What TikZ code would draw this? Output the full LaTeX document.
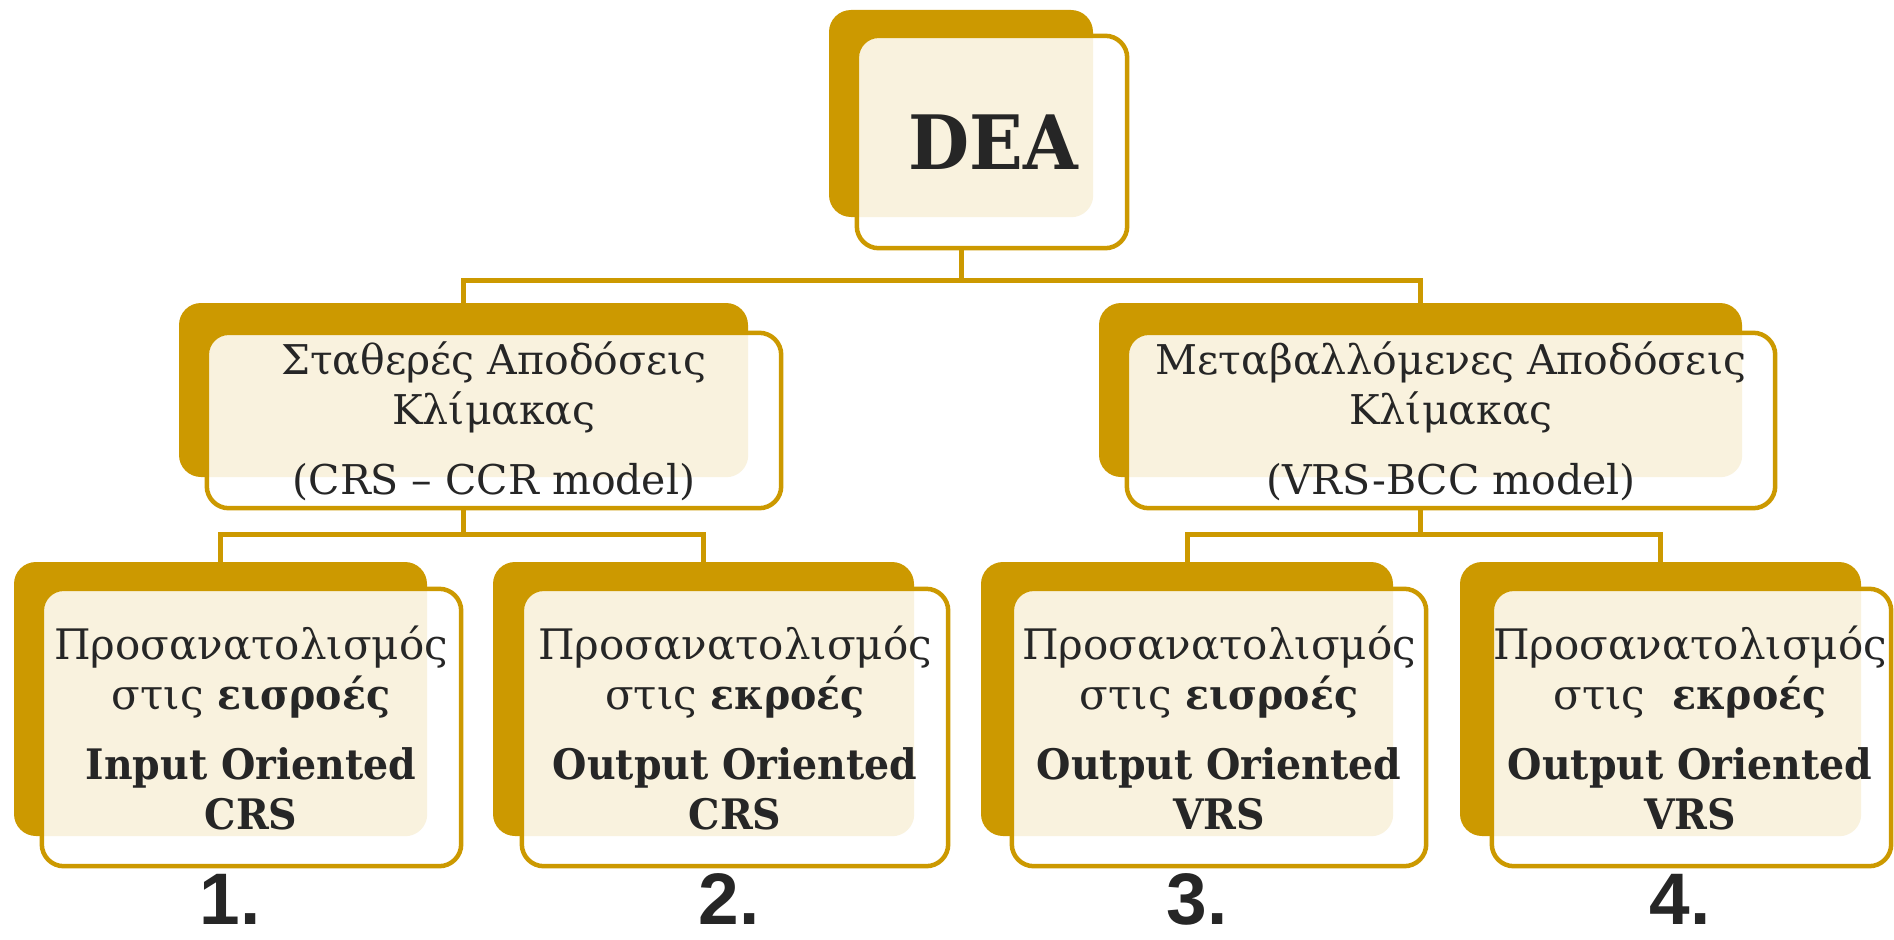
\documentclass[tikz,border=0pt]{standalone}
\usepackage{fontspec}
\setmainfont{DejaVu Serif}[BoldFeatures={FakeStretch=0.94}]
\newfontfamily\numfont{Liberation Sans}
\usetikzlibrary{fit}
\definecolor{gold}{HTML}{CC9900}
\definecolor{cream}{HTML}{F9F2DE}
\definecolor{ink}{HTML}{262626}
\tikzset{
  backbox/.style={fill=gold, draw=none, rounded corners=22pt, inner sep=0pt},
  frontbox/.style={fill=white, draw=none, rounded corners=22pt, inner sep=0pt},
  frontborder/.style={draw=gold, line width=4.5pt, rounded corners=22pt},
  conn/.style={draw=gold, line width=5pt},
  midtext/.style={text=ink, align=center, font=\fontsize{41}{50}\selectfont, inner sep=0pt},
  boxtext/.style={text=ink, align=center, font=\fontsize{42}{50}\selectfont, inner sep=0pt},
  deatext/.style={text=ink, font=\bfseries\fontsize{75}{80}\selectfont, inner sep=0pt},
  numlabel/.style={text=ink, font=\numfont\bfseries\fontsize{73}{76}\selectfont, anchor=base, inner sep=0pt},
}
\newcommand\tierbox[9]{%
  \node[backbox, fit={(#2,#3) (#4,#5)}] (#1b) {};
  \node[frontbox, fit={(#6,#7) (#8,#9)}] (#1f) {};
  \begin{scope}
    \clip[rounded corners=22pt] (#1f.north west) rectangle (#1f.south east);
    \fill[cream, rounded corners=22pt] (#1b.north west) rectangle (#1b.south east);
  \end{scope}
  \draw[frontborder] (#1f.north west) rectangle (#1f.south east);
}
\begin{document}
\begin{tikzpicture}[x=1pt, y=-1pt]
\useasboundingbox (0,0) rectangle (1894,939);
% boxes
\tierbox{dea}{829}{10}{1093}{217}{857}{36}{1127}{248}
\tierbox{l}{179}{303}{748}{477}{207}{333}{781}{508}
\tierbox{r}{1099}{303}{1742}{477}{1127}{333}{1775}{508}
\tierbox{ba}{14}{562}{427}{836}{42}{589}{461}{866}
\tierbox{bb}{493}{562}{914}{836}{522}{589}{948}{866}
\tierbox{bc}{981}{562}{1393}{836}{1012}{589}{1426}{866}
\tierbox{bd}{1460}{562}{1861}{836}{1492}{589}{1891}{866}
% connectors
\draw[conn] (deab.south |- deaf.south) -- ++(0,32) -| (lb.north);
\draw[conn] (deab.south |- deaf.south) -- ++(0,32) -| (rb.north);
\draw[conn] (lb.south |- lf.south) -- ++(0,26) -| (bab.north);
\draw[conn] (lb.south |- lf.south) -- ++(0,26) -| (bbb.north);
\draw[conn] (rb.south |- rf.south) -- ++(0,26) -| (bcb.north);
\draw[conn] (rb.south |- rf.south) -- ++(0,26) -| (bdb.north);
% texts
\node[deatext] (deat) at (993,142) {DEA};
\node[midtext] (lt) at (494,421) {Σταθερές Αποδόσεις\\Κλίμακας\\[20pt](CRS – CCR model)};
\node[midtext] (rt) at (1451,421) {Μεταβαλλόμενες Αποδόσεις\\Κλίμακας\\[20pt](VRS-BCC model)};
\node[boxtext] (bat) at (251,728) {Προσανατολισμός\\στις \textbf{εισροές}\\[20pt]\textbf{Input Oriented}\\\textbf{CRS}};
\node[boxtext] (bbt) at (735,728) {Προσανατολισμός\\στις \textbf{εκροές}\\[20pt]\textbf{Output Oriented}\\\textbf{CRS}};
\node[boxtext] (bct) at (1219,728) {Προσανατολισμός\\στις \textbf{εισροές}\\[20pt]\textbf{Output Oriented}\\\textbf{VRS}};
\node[boxtext] (bdt) at (1690,728) {Προσανατολισμός\\στις~ \textbf{εκροές}\\[20pt]\textbf{Output Oriented}\\\textbf{VRS}};
% numbers
\node[numlabel] (n1) at (230,924) {1.};
\node[numlabel] (n2) at (729,924) {2.};
\node[numlabel] (n3) at (1197,924) {3.};
\node[numlabel] (n4) at (1680,924) {4.};
\end{tikzpicture}
\end{document}
